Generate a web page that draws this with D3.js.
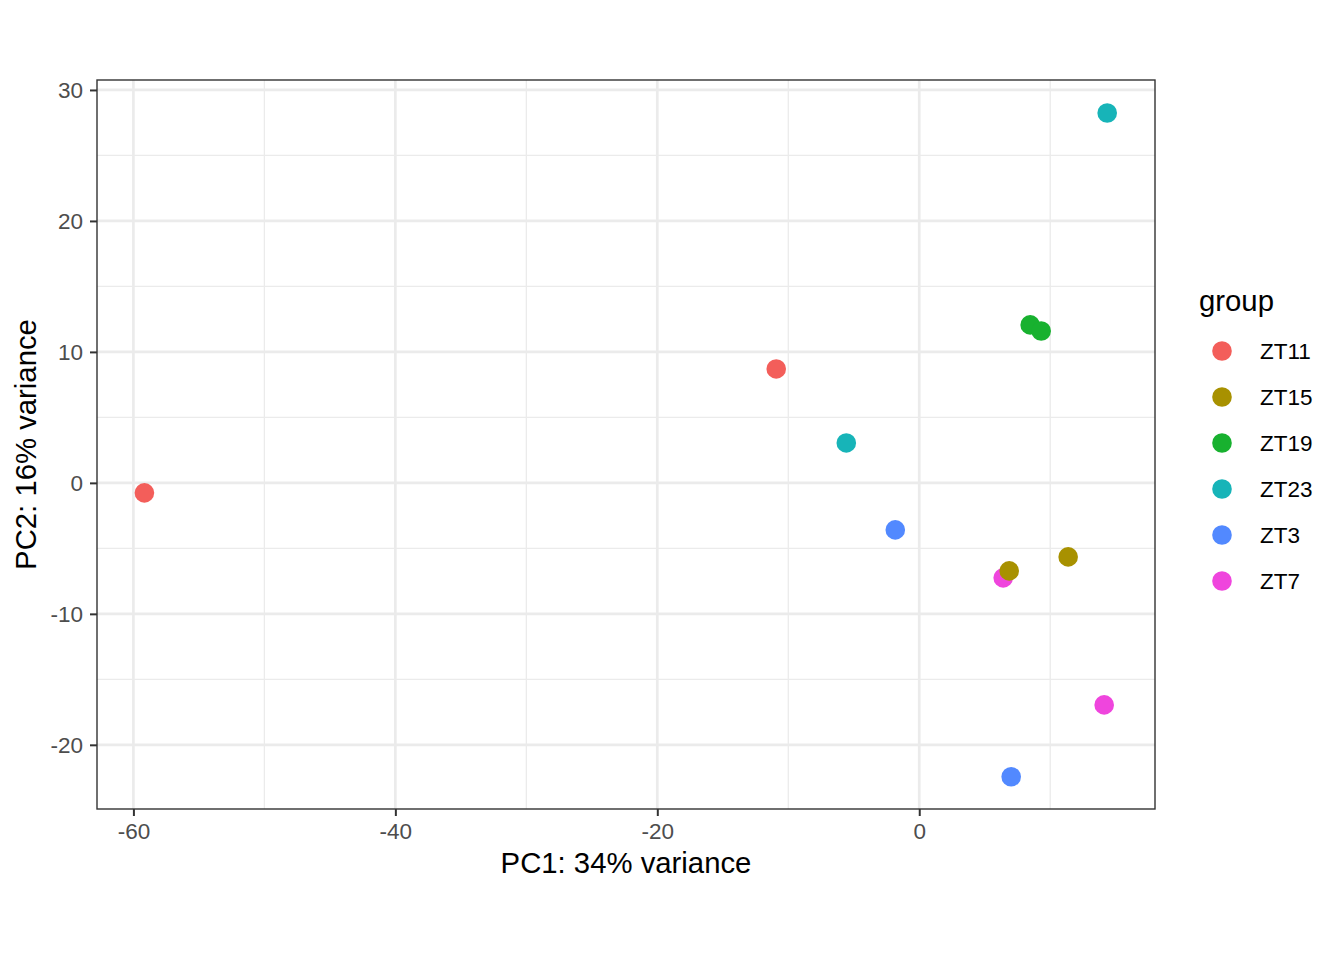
<!DOCTYPE html>
<html>
<head>
<meta charset="utf-8">
<script src="https://cdn.jsdelivr.net/npm/d3@7"></script>
<style>
  body { margin: 0; background: #fff; }
  text { font-family: "Liberation Sans", Arial, sans-serif; }
</style>
</head>
<body>
<div id="chart"></div>
<script>
// PCA sample coordinates (draw order kept: ZT7 under ZT15)
var groups = ['ZT11', 'ZT15', 'ZT19', 'ZT23', 'ZT3', 'ZT7'];
var groupColor = ['#F35E5A', '#A89100', '#18B12F', '#17B4B8', '#5289FF', '#EF45DD'];
var sampleGroup = ['ZT11', 'ZT11', 'ZT23', 'ZT23', 'ZT19', 'ZT19', 'ZT3', 'ZT3', 'ZT7', 'ZT7', 'ZT15', 'ZT15'];
var pc1 = [-59.16, -10.92, -5.57, 14.35, 8.47, 9.31, -1.83, 7.02, 6.41, 14.12, 6.87, 11.37];
var pc2 = [-0.76, 8.70, 3.05, 28.24, 12.06, 11.60, -3.59, -22.44, -7.25, -16.95, -6.72, -5.65];
var xTicks = [-60, -40, -20, 0];
var yTicks = [-20, -10, 0, 10, 20, 30];
var xMinor = [-50, -30, -10, 10];
var yMinor = [-15, -5, 5, 15, 25];

var W = 1344, H = 960;
var pLeft = 97, pRight = 1155, pTop = 80, pBottom = 809;

var svg = d3.select('#chart').append('svg')
    .attr('width', W)
    .attr('height', H);

var x = d3.scaleLinear().domain([-62.78, 18.0]).range([pLeft, pRight]);
var y = d3.scaleLinear().domain([-24.9, 30.76]).range([pBottom, pTop]);

//minor grid
svg.append('g').selectAll('line').data(xMinor).enter().append('line')
    .attr('x1', d => x(d)).attr('x2', d => x(d))
    .attr('y1', pTop).attr('y2', pBottom)
    .attr('stroke', '#ebebeb').attr('stroke-width', 1.3);
svg.append('g').selectAll('line').data(yMinor).enter().append('line')
    .attr('y1', d => y(d)).attr('y2', d => y(d))
    .attr('x1', pLeft).attr('x2', pRight)
    .attr('stroke', '#ebebeb').attr('stroke-width', 1.3);

//major grid
svg.append('g').selectAll('line').data(xTicks).enter().append('line')
    .attr('x1', d => x(d)).attr('x2', d => x(d))
    .attr('y1', pTop).attr('y2', pBottom)
    .attr('stroke', '#ebebeb').attr('stroke-width', 2.7);
svg.append('g').selectAll('line').data(yTicks).enter().append('line')
    .attr('y1', d => y(d)).attr('y2', d => y(d))
    .attr('x1', pLeft).attr('x2', pRight)
    .attr('stroke', '#ebebeb').attr('stroke-width', 2.7);

//points
var samples = pc1.map((d, i) => ({ x: d, y: pc2[i], g: sampleGroup[i] }));
svg.append('g').selectAll('circle').data(samples).enter().append('circle')
    .attr('cx', d => x(d.x))
    .attr('cy', d => y(d.y))
    .attr('r', 9.8)
    .attr('fill', d => groupColor[groups.indexOf(d.g)]);

//panel border
svg.append('rect')
    .attr('x', pLeft).attr('y', pTop)
    .attr('width', pRight - pLeft).attr('height', pBottom - pTop)
    .attr('fill', 'none').attr('stroke', '#333').attr('stroke-width', 1.4);

//axes (plain hyphen for negatives, like the reference)
var fmt = d => String(d);
var xAxis = d3.axisBottom(x).tickValues(xTicks).tickSize(7).tickPadding(6).tickFormat(fmt);
var yAxis = d3.axisLeft(y).tickValues(yTicks).tickSize(7).tickPadding(7).tickFormat(fmt);

var gx = svg.append('g').attr('transform', 'translate(0,' + pBottom + ')').call(xAxis);
var gy = svg.append('g').attr('transform', 'translate(' + pLeft + ',0)').call(yAxis);
[gx, gy].forEach(function(g) {
    g.select('.domain').remove();
    g.selectAll('.tick line').attr('stroke', '#333').attr('stroke-width', 2);
    g.selectAll('.tick text').attr('fill', '#4d4d4d')
        .style('font-size', '22.5px')
        .style('font-family', '"Liberation Sans", Arial, sans-serif');
});
gx.selectAll('.tick text').attr('dy', '0.75em');

//axis titles
svg.append('text')
    .attr('x', (pLeft + pRight) / 2).attr('y', 873)
    .attr('text-anchor', 'middle')
    .style('font-size', '29.3px')
    .text('PC1: 34% variance');
svg.append('text')
    .attr('transform', 'translate(36,' + (pTop + pBottom) / 2 + ') rotate(-90)')
    .attr('text-anchor', 'middle')
    .style('font-size', '29.3px')
    .text('PC2: 16% variance');

//legend
var legend = svg.append('g');
legend.append('text')
    .attr('x', 1199).attr('y', 311)
    .style('font-size', '29.3px')
    .text('group');
var items = legend.selectAll('.item').data(groups).enter().append('g')
    .attr('class', 'item')
    .attr('transform', (d, i) => 'translate(0,' + (351 + i * 46) + ')');
items.append('circle')
    .attr('cx', 1222).attr('cy', 0).attr('r', 9.8)
    .attr('fill', (d, i) => groupColor[i]);
items.append('text')
    .attr('x', 1260).attr('y', 0).attr('dy', '0.36em')
    .style('font-size', '22.5px')
    .text(d => d);
</script>
</body>
</html>
